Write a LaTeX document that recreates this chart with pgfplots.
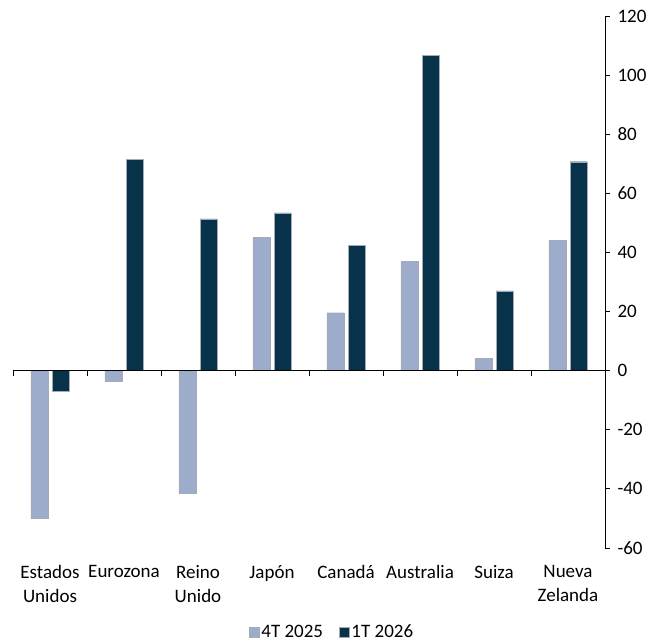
\documentclass[border=0pt]{standalone}
\usepackage{fontspec}
\setmainfont{Carlito}
\usepackage{pgfplots}
\pgfplotsset{compat=1.18}
\definecolor{light}{HTML}{9DACCB}
\definecolor{dark}{HTML}{08324A}
\definecolor{edge}{HTML}{A3ABB8}
\pgfplotsset{sqlegend/.style={legend image code/.code={\fill[##1] (0pt,-5pt) rectangle (10pt,5pt);}}}
\begin{document}
\begin{tikzpicture}
\path[use as bounding box] (-13pt,-95pt) rectangle (639pt,548pt);
\begin{axis}[
  at={(0,0)}, anchor=south west,
  scale only axis, width=592pt, height=532pt,
  xmin=-0.5, xmax=7.5, ymin=-60, ymax=120,
  axis x line=middle, axis y line=right,
  axis line style={-, black, line width=0.8pt},
  axis on top,
  hide obscured x ticks=false, hide obscured y ticks=false,
  ytick={-60,-40,...,120},
  ytick align=outside, xtick align=outside,
  major tick length=5pt,
  tick style={black, line width=0.8pt},
  xtick={-0.5,0.5,...,7.5}, xticklabels={},
  extra x ticks={0,1,2,3,4,5,6,7},
  extra x tick labels={Estados\\Unidos, Eurozona, Reino\\Unido, Japón, Canadá, Australia, Suiza, Nueva\\Zelanda},
  extra x tick style={major tick length=0pt, xticklabel style={yshift=-191pt}},
  xticklabel style={font=\fontsize{19}{24}\selectfont, align=center, anchor=north},
  yticklabel style={font=\fontsize{19}{23}\selectfont, xshift=4pt},
  /pgf/number format/assume math mode=true,
  sqlegend,
  legend columns=2,
  legend style={draw=none, fill=none, at={(0.539,-0.158)}, anchor=center,
    font=\fontsize{19}{23}\selectfont,
    /tikz/every even column/.append style={column sep=14pt}},
]
\addplot[ybar, bar width=0.23, bar shift=-0.145, fill=light, draw=edge, line width=0.4pt]
  coordinates {(0,-50) (1,-3.7) (2,-41.6) (3,45) (4,19.6) (5,36.9) (6,4.1) (7,44)};
\addlegendentry{4T 2025}
\addplot[ybar, bar width=0.23, bar shift=0.145, fill=dark, draw=edge, line width=0.4pt]
  coordinates {(0,-6.8) (1,71.4) (2,51.4) (3,53.4) (4,42.3) (5,106.6) (6,27) (7,70.7)};
\addlegendentry{1T 2026}
\end{axis}
\end{tikzpicture}
\end{document}
